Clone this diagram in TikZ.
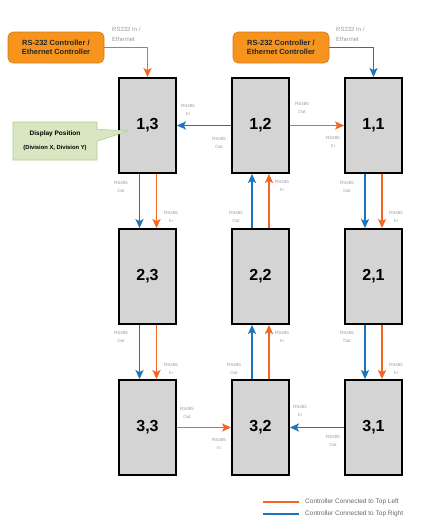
\documentclass[tikz,border=0pt]{standalone}
\usepackage{fontspec}
\setmainfont{Liberation Sans}
\usetikzlibrary{arrows.meta,shapes.callouts}
\definecolor{orline}{HTML}{F26522}
\definecolor{blline}{HTML}{1C75BC}
\definecolor{panelgray}{HTML}{D4D4D4}
\definecolor{ctrlfill}{HTML}{F7941D}
\definecolor{ctrlborder}{HTML}{D27A1E}
\definecolor{greenfill}{HTML}{D8E7C2}
\definecolor{greenborder}{HTML}{B3CB95}
\definecolor{lblgray}{HTML}{9A9A9A}
\begin{document}
\begin{tikzpicture}[x=1pt,y=-1pt,
  panel/.style={draw=black, line width=1.8pt, fill=panelgray, minimum width=57pt, minimum height=95pt, inner sep=0pt, font=\bfseries\fontsize{16}{16}\selectfont},
  ctrl/.style={draw=ctrlborder, line width=0.6pt, fill=ctrlfill, rounded corners=5pt, minimum width=96pt, minimum height=31pt, align=center, inner sep=0pt, font=\bfseries\fontsize{7.5}{9}\selectfont, text=black!85},
  lbl/.style={font=\fontsize{4.5}{8}\selectfont, text=lblgray, align=center, inner sep=0pt},
  clbl/.style={font=\fontsize{6}{9.5}\selectfont, text=lblgray, align=left, inner sep=0pt, anchor=north west},
  arr/.style={line width=1.9pt, -{Stealth[length=9pt,width=8pt,inset=2pt]}},
  orarr/.style={arr, draw=orline},
  blarr/.style={arr, draw=blline},
  leg/.style={font=\fontsize{6.5}{8}\selectfont, text=black!60, anchor=west, inner sep=0pt}
]
\useasboundingbox (0,0) rectangle (424,520);

% panels
\node[panel] (b13) at (147.5,125.5) {1,3};
\node[panel] (b12) at (260.5,125.5) {1,2};
\node[panel] (b11) at (373.5,125.5) {1,1};
\node[panel] (b23) at (147.5,276.5) {2,3};
\node[panel] (b22) at (260.5,276.5) {2,2};
\node[panel] (b21) at (373.5,276.5) {2,1};
\node[panel] (b33) at (147.5,427.5) {3,3};
\node[panel] (b32) at (260.5,427.5) {3,2};
\node[panel] (b31) at (373.5,427.5) {3,1};

% controllers
\node[ctrl] (c1) at (56,47.5) {RS-232 Controller /\\Ethernet Controller};
\node[ctrl] (c2) at (281,47.5) {RS-232 Controller /\\Ethernet Controller};
\draw[orarr] (c1.east) -| (b13.north);
\draw[blarr] (c2.east) -| (b11.north);
\node[clbl] (cl1) at (112,27) {RS232 In /\\Ethernet};
\node[clbl] (cl2) at (336,27) {RS232 In /\\Ethernet};

% display position callout
\node[rectangle callout, draw=greenborder, line width=0.6pt, fill=greenfill, minimum width=84pt, minimum height=38pt, inner sep=0pt, align=center, callout pointer width=12pt, callout absolute pointer={(128,131)}] (dp) at (55,141)
  {\fontsize{6.5}{10}\selectfont\bfseries Display Position\\[2pt]\fontsize{5.8}{8}\selectfont\bfseries (Division X, Division Y)};

% row 1 horizontal
\draw[blarr] (b12.west) -- (b13.east);
\draw[orarr] (b12.east) -- (b11.west);
% row 3 horizontal
\draw[orarr] (b33.east) -- (b32.west);
\draw[blarr] (b31.west) -- (b32.east);

% column 3 (down)
\draw[blarr] ([xshift=-8pt]b13.south) -- ([xshift=-8pt]b23.north);
\draw[orarr] ([xshift=9pt]b13.south) -- ([xshift=9pt]b23.north);
\draw[blarr] ([xshift=-8pt]b23.south) -- ([xshift=-8pt]b33.north);
\draw[orarr] ([xshift=9pt]b23.south) -- ([xshift=9pt]b33.north);
% column 2 (up)
\draw[blarr] ([xshift=-8.5pt]b22.north) -- ([xshift=-8.5pt]b12.south);
\draw[orarr] ([xshift=8.5pt]b22.north) -- ([xshift=8.5pt]b12.south);
\draw[blarr] ([xshift=-8.5pt]b32.north) -- ([xshift=-8.5pt]b22.south);
\draw[orarr] ([xshift=8.5pt]b32.north) -- ([xshift=8.5pt]b22.south);
% column 1 (down)
\draw[blarr] ([xshift=-8.5pt]b11.south) -- ([xshift=-8.5pt]b21.north);
\draw[orarr] ([xshift=8.5pt]b11.south) -- ([xshift=8.5pt]b21.north);
\draw[blarr] ([xshift=-8.5pt]b21.south) -- ([xshift=-8.5pt]b31.north);
\draw[orarr] ([xshift=8.5pt]b21.south) -- ([xshift=8.5pt]b31.north);

% labels row 1
\node[lbl] (l1) at (188,110) {RS485\\In};
\node[lbl] (l2) at (219,143) {RS485\\Out};
\node[lbl] (l3) at (302,108) {RS485\\Out};
\node[lbl] (l4) at (333,142) {RS485\\In};
% labels rows 1-2
\node[lbl] (l5) at (121,187) {RS485\\Out};
\node[lbl] (l6) at (171,217) {RS485\\In};
\node[lbl] (l7) at (282,186) {RS485\\In};
\node[lbl] (l8) at (236,217) {RS485\\Out};
\node[lbl] (l9) at (347,187) {RS485\\Out};
\node[lbl] (l10) at (396,217) {RS485\\In};
% labels rows 2-3
\node[lbl] (l11) at (121,337) {RS485\\Out};
\node[lbl] (l12) at (171,369) {RS485\\In};
\node[lbl] (l13) at (282,337) {RS485\\In};
\node[lbl] (l14) at (234,369) {RS485\\Out};
\node[lbl] (l15) at (347,337) {RS485\\Out};
\node[lbl] (l16) at (396,369) {RS485\\In};
% labels row 3
\node[lbl] (l17) at (187,413) {RS485\\Out};
\node[lbl] (l18) at (219,444) {RS485\\In};
\node[lbl] (l19) at (300,411) {RS485\\In};
\node[lbl] (l20) at (333,441) {RS485\\Out};

% legend
\coordinate (lg1a) at (263,502);
\coordinate (lg1b) at (299,502);
\coordinate (lg2a) at (263,514);
\coordinate (lg2b) at (299,514);
\draw[orline, line width=1.5pt] (lg1a) -- (lg1b);
\draw[blline, line width=1.5pt] (lg2a) -- (lg2b);
\node[leg] (lt1) at (305,502) {Controller Connected to Top Left};
\node[leg] (lt2) at (305,514) {Controller Connected to Top Right};
\end{tikzpicture}
\end{document}
